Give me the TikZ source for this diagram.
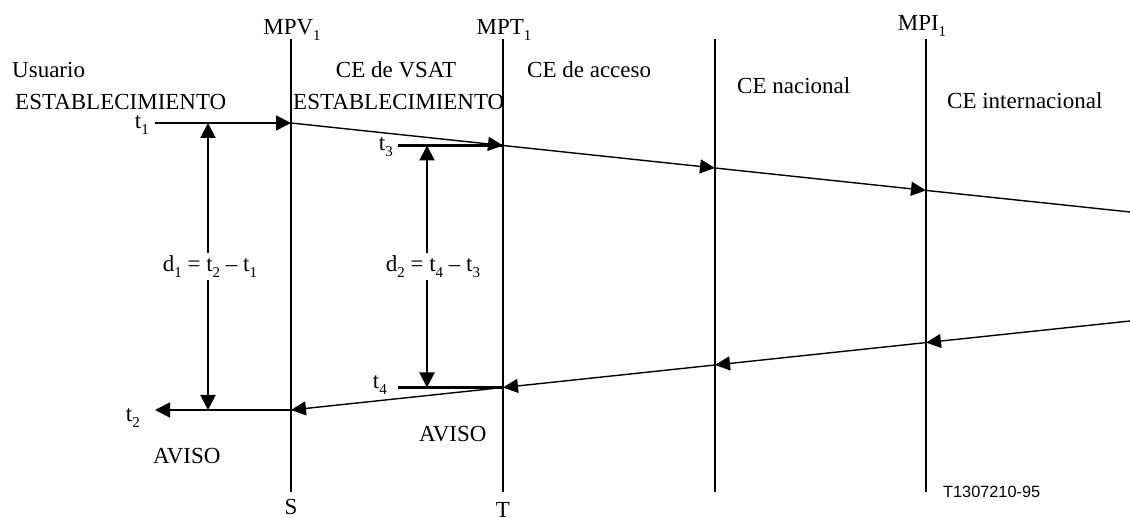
\documentclass[tikz,border=0pt]{standalone}
\usepackage{fontspec}
\setmainfont{Liberation Serif}
\newfontfamily\figfont{Liberation Sans}
\usetikzlibrary{arrows.meta}
\newcommand\lowidx[1]{\raisebox{-0.22em}{\fontsize{15}{15}\selectfont #1}}
\begin{document}
\begin{tikzpicture}[x=1pt,y=-1pt,
  lbl/.style={inner sep=0pt, font=\fontsize{23}{27}\selectfont},
  life/.style={line width=2.2pt},
  msg/.style={line width=1.4pt, -{Triangle[length=15pt,width=14pt]}},
  plain/.style={line width=1.4pt},
  tline/.style={line width=2.2pt},
  darr/.style={line width=2.1pt, -{Triangle[length=15pt,width=15pt]}},
  tarr/.style={line width=1.8pt, -{Triangle[length=15pt,width=15pt]}}]
\useasboundingbox (0,0) rectangle (1130,518);
% lifelines
\coordinate (v1top) at (291,39);  \coordinate (v1bot) at (291,492);
\coordinate (v2top) at (503,39);  \coordinate (v2bot) at (503,492);
\coordinate (v3top) at (715,39);  \coordinate (v3bot) at (715,492);
\coordinate (v4top) at (926,39);  \coordinate (v4bot) at (926,492);
\draw[life] (v1top) -- (v1bot);
\draw[life] (v2top) -- (v2bot);
\draw[life] (v3top) -- (v3bot);
\draw[life] (v4top) -- (v4bot);
% forward messages
\coordinate (t1start) at (155,123);
\coordinate (f1) at (291,123);
\coordinate (f2) at (503,145.5);
\coordinate (f3) at (715,168);
\coordinate (f4) at (926,190.4);
\coordinate (fend) at (1130,212);
\draw[tarr] (t1start) -- (f1);
\draw[msg] (f1) -- (f2);
\draw[msg] (f2) -- (f3);
\draw[msg] (f3) -- (f4);
\draw[plain] (f4) -- (fend);
\coordinate (t3start) at (398,145.5);
\draw[tline] (t3start) -- (f2);
% backward messages
\coordinate (bstart) at (1130,321);
\coordinate (b4) at (926,342.6);
\coordinate (b3) at (715,365);
\coordinate (b2) at (503,387.5);
\coordinate (b1) at (291,410);
\coordinate (t2end) at (155,410);
\draw[msg] (bstart) -- (b4);
\draw[msg] (b4) -- (b3);
\draw[msg] (b3) -- (b2);
\draw[msg] (b2) -- (b1);
\draw[tarr] (b1) -- (t2end);
\coordinate (t4start) at (398,387.5);
\draw[tline] (t4start) -- (b2);
% labels on lifelines
\node[lbl, anchor=base] (mpv) at (292,35) {MPV\lowidx{1}};
\node[lbl, anchor=base] (mpt) at (504,35) {MPT\lowidx{1}};
\node[lbl, anchor=base] (mpi) at (922,31) {MPI\lowidx{1}};
\node[lbl, anchor=base] (s) at (291,514) {S};
\node[lbl, anchor=base] (t) at (503,517) {T};
% region labels
\node[lbl, anchor=base west] (usr) at (12,78) {Usuario};
\node[lbl, anchor=base west] (est1) at (15,110) {ESTABLECIMIENTO};
\node[lbl, anchor=base] (vsat) at (396,78) {CE de VSAT};
\node[lbl, anchor=base west] (est2) at (293,110) {ESTABLECIMIENTO};
\node[lbl, anchor=base west] (acc) at (527,78) {CE de acceso};
\node[lbl, anchor=base west] (nac) at (737,94) {CE nacional};
\node[lbl, anchor=base west] (int) at (947,109) {CE internacional};
\node[lbl, anchor=base west] (av1) at (153,463) {AVISO};
\node[lbl, anchor=base west] (av2) at (419,442) {AVISO};
% time labels
\node[lbl, anchor=base east] (lt1) at (149,129) {t\lowidx{1}};
\node[lbl, anchor=base east] (lt3) at (393,151) {t\lowidx{3}};
\node[lbl, anchor=base east] (lt4) at (387,389) {t\lowidx{4}};
\node[lbl, anchor=base east] (lt2) at (140,422) {t\lowidx{2}};
% delay arrows
\coordinate (d1top) at (208,123);
\coordinate (d1bot) at (208,410);
\node[lbl, anchor=base, inner ysep=3pt] (d1) at (210,272) {d\lowidx{1} = t\lowidx{2} – t\lowidx{1}};
\draw[darr] (d1top |- d1.north) -- (d1top);
\draw[darr] (d1bot |- d1.south) -- (d1bot);
\coordinate (d2top) at (427,145.5);
\coordinate (d2bot) at (427,387.5);
\node[lbl, anchor=base, inner ysep=3pt] (d2) at (433,272) {d\lowidx{2} = t\lowidx{4} – t\lowidx{3}};
\draw[darr] (d2top |- d2.north) -- (d2top);
\draw[darr] (d2bot |- d2.south) -- (d2bot);
% figure id
\node[inner sep=0pt, anchor=base west, font=\figfont\fontsize{16.3}{18}\selectfont] (fid) at (943,497) {T1307210-95};
\end{tikzpicture}
\end{document}
